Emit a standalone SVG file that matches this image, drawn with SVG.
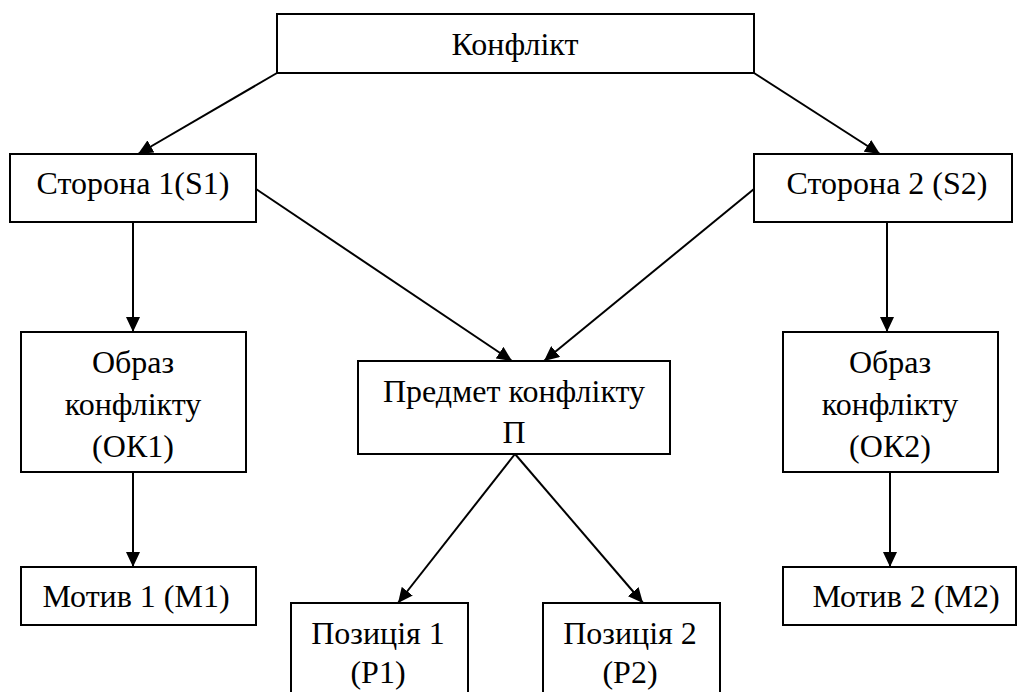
<svg xmlns="http://www.w3.org/2000/svg" width="1018" height="692" viewBox="0 0 1018 692">
<defs>
<style>
.box{fill:#fff;stroke:#000;stroke-width:2}
.t{font-family:"Liberation Serif","Times New Roman",serif;font-size:32px;fill:#000;text-anchor:middle}
.c{stroke:#000;stroke-width:2;fill:none;marker-end:url(#ah)}
</style>
<marker id="ah" markerUnits="userSpaceOnUse" markerWidth="15" markerHeight="14" refX="15" refY="7" orient="auto" viewBox="0 0 15 14">
<path d="M0,0 L15,7 L0,14 z" fill="#000"/>
</marker>
</defs>
<rect width="1018" height="692" fill="#fff"/>
<g id="connectors">
<line class="c" x1="277" y1="73" x2="138" y2="154"/>
<line class="c" x1="754" y1="73" x2="880" y2="154"/>
<line class="c" x1="256" y1="189" x2="512" y2="361"/>
<line class="c" x1="754" y1="189" x2="544" y2="361"/>
<line class="c" x1="133" y1="222" x2="133" y2="332"/>
<line class="c" x1="133" y1="472" x2="133" y2="567"/>
<line class="c" x1="887" y1="222" x2="887" y2="332"/>
<line class="c" x1="890" y1="472" x2="890" y2="567"/>
<line class="c" x1="515" y1="454" x2="398" y2="603"/>
<line class="c" x1="515" y1="454" x2="643" y2="603"/>
</g>
<g id="konflikt">
<rect class="box" x="277" y="14" width="477" height="59"/>
<text class="t" x="515" y="55">Конфлікт</text>
</g>
<g id="storona1">
<rect class="box" x="10" y="154" width="246" height="68"/>
<text class="t" x="133" y="194">Сторона 1(S1)</text>
</g>
<g id="storona2">
<rect class="box" x="754" y="154" width="258" height="68"/>
<text class="t" x="887" y="194">Сторона 2 (S2)</text>
</g>
<g id="obraz1">
<rect class="box" x="21" y="332" width="225" height="140"/>
<text class="t" x="133" y="373">Образ</text>
<text class="t" x="133" y="415">конфлікту</text>
<text class="t" x="133" y="457">(ОК1)</text>
</g>
<g id="obraz2">
<rect class="box" x="783" y="332" width="215" height="140"/>
<text class="t" x="890" y="373">Образ</text>
<text class="t" x="890" y="415">конфлікту</text>
<text class="t" x="890" y="457">(ОК2)</text>
</g>
<g id="predmet">
<rect class="box" x="358" y="361" width="312" height="93"/>
<text class="t" x="514" y="402">Предмет конфлікту</text>
<text class="t" x="514" y="443">П</text>
</g>
<g id="motiv1">
<rect class="box" x="21" y="567" width="235" height="58"/>
<text class="t" x="136" y="607">Мотив 1 (М1)</text>
</g>
<g id="motiv2">
<rect class="box" x="783" y="567" width="233" height="58"/>
<text class="t" x="906" y="607">Мотив 2 (М2)</text>
</g>
<g id="pozytsiia1">
<rect class="box" x="291" y="603" width="177" height="100"/>
<text class="t" x="378" y="644">Позиція 1</text>
<text class="t" x="378" y="683">(P1)</text>
</g>
<g id="pozytsiia2">
<rect class="box" x="543" y="603" width="177" height="100"/>
<text class="t" x="630" y="644">Позиція 2</text>
<text class="t" x="630" y="683">(P2)</text>
</g>
</svg>
